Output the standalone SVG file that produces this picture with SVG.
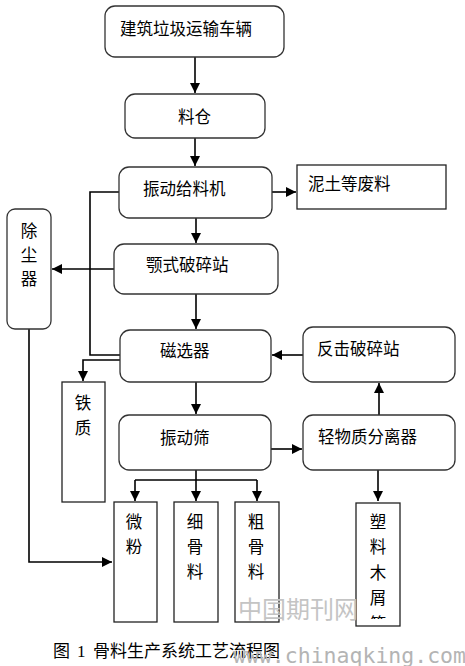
<svg xmlns="http://www.w3.org/2000/svg" width="465" height="666" viewBox="0 0 465 666">
<defs>
<style>
.rb{fill:#fff;stroke:#333;stroke-width:1.3}
.pb{fill:#fff;stroke:#222;stroke-width:1.3}
.t{font-family:"Noto Sans CJK SC","Noto Sans",sans-serif;font-size:16.5px;fill:#000;dominant-baseline:central}
.tc{text-anchor:middle}
.c{fill:none;stroke:#000;stroke-width:1.6}
.a{marker-end:url(#ah)}
.wm{font-family:"Noto Sans CJK SC",sans-serif;font-size:24px;fill:#c4c4c4;dominant-baseline:central}
.url{font-family:"DejaVu Sans Mono","Liberation Mono",monospace;font-size:21.5px;fill:#b4b4b4;dominant-baseline:central}
.cap{font-family:"Liberation Serif","Noto Sans CJK SC",serif;font-size:17px;fill:#000;dominant-baseline:central}
</style>
<marker id="ah" markerUnits="userSpaceOnUse" markerWidth="12" markerHeight="10" refX="10" refY="5" orient="auto">
<path d="M0,0 L10,5 L0,10 Z" fill="#000"/>
</marker>
<clipPath id="clipS"><rect x="356" y="503" width="44" height="116"/></clipPath>
</defs>
<rect width="465" height="666" fill="#fff"/>

<g id="connectors">
<path class="c a" d="M195,57 V93"/>
<path class="c a" d="M195,138 V166"/>
<path class="c a" d="M272,192 H296"/>
<path class="c a" d="M196,218 V243"/>
<path class="c a" d="M114,269 H52"/>
<path class="c" d="M119,192 H90 V355 H120"/>
<path class="c a" d="M196,294 V329"/>
<path class="c a" d="M303,355 H272"/>
<path class="c a" d="M120,360 H83 V381"/>
<path class="c a" d="M196,382 V414"/>
<path class="c a" d="M271,449 H302"/>
<path class="c a" d="M379,415 V383"/>
<path class="c a" d="M378,470 V501"/>
<path class="c a" d="M196,470 V501"/>
<path class="c" d="M135,480 H257"/>
<path class="c a" d="M135,480 V501"/>
<path class="c a" d="M257,480 V501"/>
<path class="c a" d="M29,329 V562 H112"/>
</g>

<g id="n-vehicle"><rect class="rb" x="105" y="6" width="179" height="51" rx="10"/><text class="t" x="120" y="28">建筑垃圾运输车辆</text></g>
<g id="n-bin"><rect class="rb" x="125" y="94" width="140" height="44" rx="10"/><text class="t" x="178" y="116">料仓</text></g>
<g id="n-feeder"><rect class="rb" x="119" y="167" width="153" height="51" rx="10"/><text class="t" x="143" y="188">振动给料机</text></g>
<g id="n-waste"><rect class="pb" x="297" y="165" width="149" height="44"/><text class="t" x="308" y="183">泥土等废料</text></g>
<g id="n-dust"><rect class="rb" x="7" y="209" width="44" height="120" rx="8"/><text class="t tc" x="29" y="230">除</text><text class="t tc" x="29" y="254">尘</text><text class="t tc" x="29" y="278">器</text></g>
<g id="n-jaw"><rect class="rb" x="114" y="244" width="164" height="50" rx="10"/><text class="t" x="146" y="264">颚式破碎站</text></g>
<g id="n-magnet"><rect class="rb" x="120" y="330" width="151" height="52" rx="10"/><text class="t" x="160" y="350">磁选器</text></g>
<g id="n-impact"><rect class="rb" x="303" y="327" width="152" height="55" rx="10"/><text class="t" x="317" y="348">反击破碎站</text></g>
<g id="n-iron"><rect class="pb" x="62" y="382" width="43" height="120"/><text class="t tc" x="83" y="402">铁</text><text class="t tc" x="83" y="427">质</text></g>
<g id="n-screen"><rect class="rb" x="119" y="415" width="152" height="55" rx="10"/><text class="t" x="160" y="437">振动筛</text></g>
<g id="n-light"><rect class="rb" x="303" y="415" width="152" height="55" rx="10"/><text class="t" x="318" y="436">轻物质分离器</text></g>
<g id="n-powder"><rect class="pb" x="114" y="502" width="43" height="120"/><text class="t tc" x="134" y="521">微</text><text class="t tc" x="134" y="546">粉</text></g>
<g id="n-fine"><rect class="pb" x="174" y="502" width="44" height="120"/><text class="t tc" x="195" y="521">细</text><text class="t tc" x="195" y="546">骨</text><text class="t tc" x="195" y="571">料</text></g>
<g id="n-coarse"><rect class="pb" x="235" y="502" width="44" height="120"/><text class="t tc" x="256" y="521">粗</text><text class="t tc" x="256" y="546">骨</text><text class="t tc" x="256" y="571">料</text></g>
<g id="n-plastic"><rect class="pb" x="356" y="503" width="44" height="123"/><g clip-path="url(#clipS)"><text class="t tc" x="378" y="521">塑</text><text class="t tc" x="378" y="546">料</text><text class="t tc" x="378" y="572">木</text><text class="t tc" x="378" y="597">屑</text><text class="t tc" x="378" y="623">箱</text></g></g>

<text class="wm" x="238" y="607">中国期刊网</text>
<text class="cap" y="651"><tspan x="53">图</tspan><tspan x="77">1</tspan><tspan x="93">骨料生产系统工艺流程图</tspan></text>
<text class="url" x="233" y="655">www.chinaqking.com</text>
</svg>
